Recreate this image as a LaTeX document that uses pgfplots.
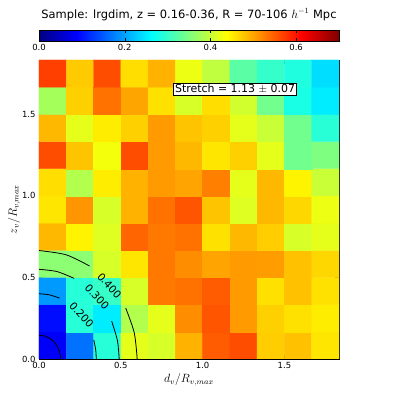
\documentclass[border=0pt]{standalone}
\usepackage{pgfplots}
\pgfplotsset{compat=1.18}
\usepackage{fontspec}
\setmainfont{DejaVu Sans}

% mean values per cell, bottom row first, x increasing
\pgfplotstableread{
x y c
0.0833 0.0833 0.084
0.2500 0.0833 0.166
0.4167 0.0833 0.289
0.5833 0.0833 0.420
0.7500 0.0833 0.410
0.9167 0.0833 0.490
1.0833 0.0833 0.550
1.2500 0.0833 0.560
1.4167 0.0833 0.472
1.5833 0.0833 0.480
1.7500 0.0833 0.455
0.0833 0.2500 0.096
0.2500 0.2500 0.289
0.4167 0.2500 0.250
0.5833 0.2500 0.385
0.7500 0.2500 0.420
0.9167 0.2500 0.516
1.0833 0.2500 0.555
1.2500 0.2500 0.507
1.4167 0.2500 0.470
1.5833 0.2500 0.458
1.7500 0.2500 0.450
0.0833 0.4167 0.193
0.2500 0.4167 0.289
0.4167 0.4167 0.300
0.5833 0.4167 0.410
0.7500 0.4167 0.530
0.9167 0.4167 0.534
1.0833 0.4167 0.550
1.2500 0.4167 0.507
1.4167 0.4167 0.458
1.5833 0.4167 0.480
1.7500 0.4167 0.458
0.0833 0.5833 0.359
0.2500 0.5833 0.359
0.4167 0.5833 0.410
0.5833 0.5833 0.455
0.7500 0.5833 0.530
0.9167 0.5833 0.516
1.0833 0.5833 0.500
1.2500 0.5833 0.507
1.4167 0.5833 0.505
1.5833 0.5833 0.480
1.7500 0.5833 0.465
0.0833 0.7500 0.486
0.2500 0.7500 0.445
0.4167 0.7500 0.415
0.5833 0.7500 0.543
0.7500 0.7500 0.530
0.9167 0.7500 0.534
1.0833 0.7500 0.458
1.2500 0.7500 0.486
1.4167 0.7500 0.472
1.5833 0.7500 0.410
1.7500 0.7500 0.420
0.0833 0.9167 0.455
0.2500 0.9167 0.510
0.4167 0.9167 0.410
0.5833 0.9167 0.490
0.7500 0.9167 0.534
0.9167 0.9167 0.555
1.0833 0.9167 0.478
1.2500 0.9167 0.415
1.4167 0.9167 0.486
1.5833 0.9167 0.465
1.7500 0.9167 0.425
0.0833 1.0833 0.460
0.2500 1.0833 0.385
0.4167 1.0833 0.450
0.5833 1.0833 0.490
0.7500 1.0833 0.507
0.9167 1.0833 0.500
1.0833 1.0833 0.525
1.2500 1.0833 0.420
1.4167 1.0833 0.486
1.5833 1.0833 0.445
1.7500 1.0833 0.400
0.0833 1.2500 0.560
0.2500 1.2500 0.478
0.4167 1.2500 0.430
0.5833 1.2500 0.560
0.7500 1.2500 0.507
0.9167 1.2500 0.486
1.0833 1.2500 0.455
1.2500 1.2500 0.470
1.4167 1.2500 0.420
1.5833 1.2500 0.340
1.7500 1.2500 0.350
0.0833 1.4167 0.486
0.2500 1.4167 0.420
0.4167 1.4167 0.450
0.5833 1.4167 0.470
0.7500 1.4167 0.507
0.9167 1.4167 0.478
1.0833 1.4167 0.470
1.2500 1.4167 0.420
1.4167 1.4167 0.400
1.5833 1.4167 0.340
1.7500 1.4167 0.290
0.0833 1.5833 0.376
0.2500 1.5833 0.470
0.4167 1.5833 0.534
0.5833 1.5833 0.499
0.7500 1.5833 0.458
0.9167 1.5833 0.410
1.0833 1.5833 0.460
1.2500 1.5833 0.406
1.4167 1.5833 0.341
1.5833 1.5833 0.280
1.7500 1.5833 0.250
0.0833 1.7500 0.569
0.2500 1.7500 0.473
0.4167 1.7500 0.560
0.5833 1.7500 0.460
0.7500 1.7500 0.490
0.9167 1.7500 0.425
1.0833 1.7500 0.394
1.2500 1.7500 0.324
1.4167 1.7500 0.298
1.5833 1.7500 0.284
1.7500 1.7500 0.240
}\cells

\begin{document}
\begin{tikzpicture}
\useasboundingbox (-39bp,-40bp) rectangle (360bp,359bp);
\begin{axis}[
  scale only axis,
  width=300bp, height=299bp,
  xmin=0, xmax=1.8333, ymin=0, ymax=1.8333,
  xtick={0,0.5,1,1.5}, ytick={0,0.5,1,1.5},
  /pgf/number format/fixed,
  /pgf/number format/fixed zerofill,
  /pgf/number format/precision=1,
  /pgf/number format/assume math mode=true,
  tick label style={font=\fontsize{8.5}{10}\selectfont},
  major tick length=4bp,
  tick style={black},
  axis line style={black, line width=0.8bp},
  xlabel={$d_v/R_{v,max}$},
  ylabel={$z_v/R_{v,max}$},
  label style={font=\fontsize{12}{14}\selectfont},
  ylabel style={yshift=-5bp},
  xlabel style={yshift=2bp},
  title={Sample: lrgdim, z = 0.16-0.36, R = 70-106 $h^{-1}$ Mpc},
  title style={font=\fontsize{11.5}{14}\selectfont, at={(0.5,1)}, anchor=south, yshift=30bp},
  colormap/jet,
  point meta min=0, point meta max=0.7,
  colorbar horizontal,
  colorbar style={
    at={(0,1.0635)}, anchor=south west,
    scale only axis, width=300bp, height=11bp,
    xtick={0,0.2,0.4,0.6},
    xticklabels={0.0,0.2,0.4,0.6},
    xticklabel pos=lower,
    xticklabel style={font=\fontsize{8.5}{10}\selectfont, scale=1},
    every tick label/.append style={font=\fontsize{8.5}{10}\selectfont},
    major tick length=3bp,
    tick style={black},
    axis line style={black, line width=0.6bp},
  },
]
\addplot[matrix plot*, mesh/cols=11, point meta=explicit] table[x=x, y=y, meta=c] {\cells};

% contour lines
\addplot[black, line width=0.8bp, smooth] coordinates {
  (0.132,0) (0.1275,0.0378) (0.1143,0.073) (0.0933,0.1032) (0.066,0.1264) (0.0342,0.141) (0,0.146)};
\addplot[black, line width=0.8bp, smooth] coordinates {
  (0.35,0) (0.3466,0.0557) (0.3347,0.117)};
\addplot[black, line width=0.8bp, smooth] coordinates {
  (0.1254,0.3734) (0.0608,0.394) (0,0.40)};
\addplot[black, line width=0.8bp, smooth] coordinates {
  (0.49,0) (0.479,0.114) (0.444,0.232)};
\addplot[black, line width=0.8bp, smooth] coordinates {
  (0.2148,0.4943) (0.110,0.536) (0,0.55)};
\addplot[black, line width=0.8bp, smooth] coordinates {
  (0.60,0) (0.582,0.161) (0.530,0.312)};
\addplot[black, line width=0.8bp, smooth] coordinates {
  (0.309,0.570) (0.1654,0.639) (0,0.665)};

\node[rotate=-48, font=\fontsize{10.5}{12}\selectfont] at (axis cs:0.43,0.45) {0.400};
\node[rotate=-48, font=\fontsize{10.5}{12}\selectfont] at (axis cs:0.355,0.38) {0.300};
\node[rotate=-48, font=\fontsize{10.5}{12}\selectfont] at (axis cs:0.26,0.27) {0.200};

\node[draw=black, fill=white, line width=0.8bp, inner sep=1.5bp, font=\fontsize{11}{13}\selectfont]
  at (axis cs:1.198,1.655) {Stretch = 1.13 $\pm$ 0.07};
\end{axis}
\end{tikzpicture}
\end{document}
